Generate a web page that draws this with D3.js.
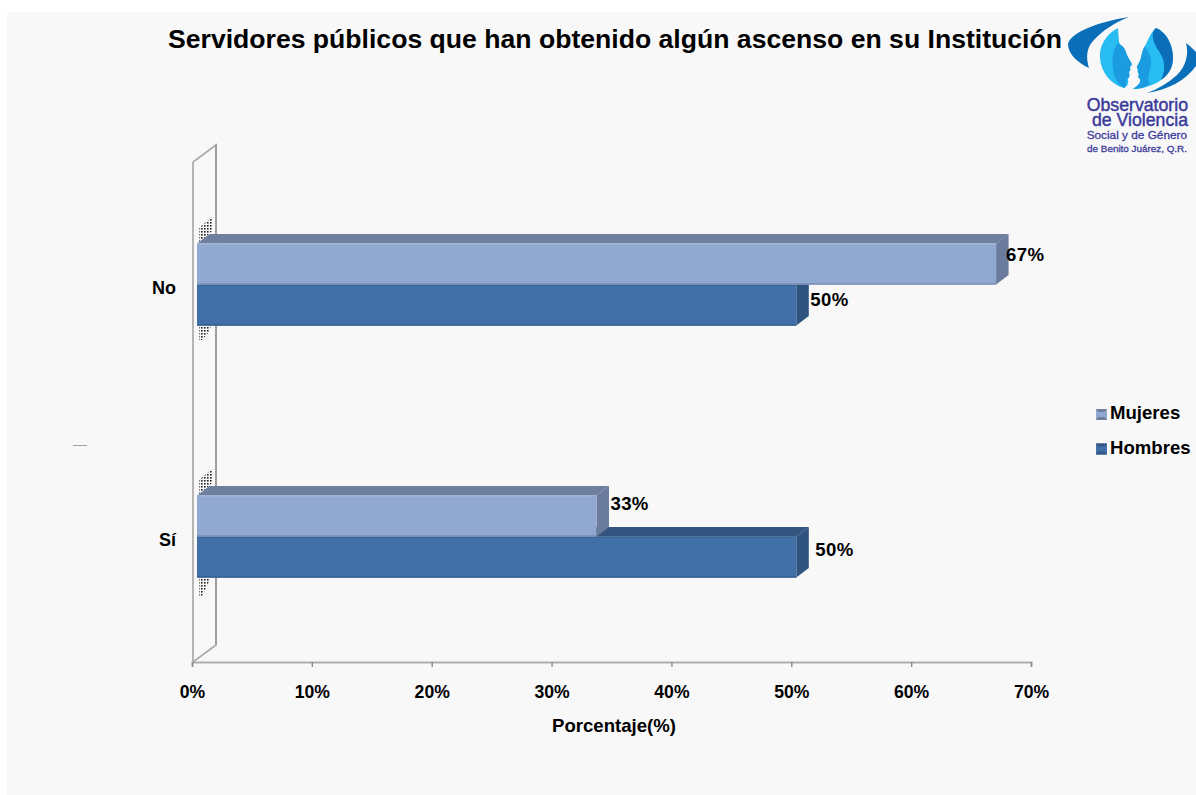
<!DOCTYPE html>
<html><head><meta charset="utf-8">
<script src="https://cdn.jsdelivr.net/npm/d3@7/dist/d3.min.js"></script>
<style>html,body{margin:0;padding:0;background:#fff}svg{display:block}text{font-family:"Liberation Sans",Arial,sans-serif;font-weight:700;fill:#000}</style>
</head><body><svg id="c" width="1196" height="795"></svg>
<script>
const chartTitle = "Servidores públicos que han obtenido algún ascenso en su Institución";
const xAxisTitle = "Porcentaje(%)";
const categories = ["No", "Sí"];
const seriesNames = ["Mujeres", "Hombres"];
const mujeres = [66.67, 33.33];
const hombres = [50, 50];
const xTicks = [0, 10, 20, 30, 40, 50, 60, 70];
const logoLines = ["Observatorio", "de Violencia", "Social y de Género", "de Benito Juárez, Q.R."];

const svg = d3.select("#c");
svg.append("rect").attr("x",7).attr("y",12).attr("width",1189).attr("height",783).attr("fill","#f8f8f8");

const x = d3.scaleLinear().domain([0,70]).range([192,1031]);
const y = d3.scaleBand().domain(categories).range([158,662]);
const inner = d3.scaleBand().domain(seriesNames).range([0,1]);
const frontDx = 5, depthX = 12.5, depthY = 9.5;
const barH = 41;

const g = svg.append("g");
g.append("path").attr("d",`M${x(0)+1},162V662L${x(0)+24},645V145L${x(0)+1},162`).attr("fill","none").attr("stroke","#adadad").attr("stroke-width",1.8);
g.append("path").attr("d",`M${x(0)+24},145V645`).attr("stroke","#808080").attr("stroke-width",1.6).attr("stroke-dasharray","1 1").attr("fill","none");

const defs = svg.append("defs");
const pat = defs.append("pattern").attr("id","dots").attr("width",3).attr("height",3).attr("patternUnits","userSpaceOnUse");
pat.append("rect").attr("width",1.6).attr("height",1.6).attr("fill","#222");
[[199,217,13,26],[199,469,13,26],[199,326,12,14],[199,578,11,18]].forEach((r,i)=>{
  const d = i<2 ? `M${r[0]},${r[1]+r[3]}V${r[1]+11}L${r[0]+r[2]},${r[1]}V${r[1]+r[3]-12}Z`
                : `M${r[0]},${r[1]}H${r[0]+r[2]}L${r[0]+r[2]-2},${r[1]+6}L${r[0]+3},${r[1]+r[3]}H${r[0]}Z`;
  g.append("path").attr("d",d).attr("fill","url(#dots)");
});

const axis = d3.axisBottom(x).tickValues(xTicks).tickSize(5).tickFormat(d=>d+"%");
const ax = svg.append("g").attr("transform","translate(0,662)").call(axis);
ax.select(".domain").attr("stroke","#adadad").attr("stroke-width",1.8);
ax.selectAll("line").attr("stroke","#8c8c8c").attr("stroke-width",1.4);
ax.selectAll("text").attr("y",24).attr("dy","0.71em").attr("font-size",17.6).style("font-family",'"Liberation Sans",Arial,sans-serif').style("font-weight",700);

svg.append("text").attr("x",614).attr("y",732).attr("text-anchor","middle").attr("font-size",18.6).text(xAxisTitle);
svg.append("text").attr("x",615).attr("y",48).attr("text-anchor","middle").attr("font-size",26.6).text(chartTitle);

const colors = {
  Mujeres:{front:"#91a8d0", top:"#6f809f", side:"#6a7b9e", edge:"#7c8fb5"},
  Hombres:{front:"#4170a8", top:"#34557f", side:"#2f5480", edge:"#35608f"}
};

const rows = [];
categories.forEach((c,i)=>{
  rows.push({cat:c,s:"Mujeres",v:mujeres[i]});
  rows.push({cat:c,s:"Hombres",v:hombres[i]});
});
const barY = d => y(d.cat) + y.bandwidth()/2 - barH + inner(d.s)*2*barH + 0.5;
const x0 = x(0)+frontDx;
const xEnd = d => x(d.v)+frontDx;

const order = rows.slice().sort((a,b)=> (a.s===b.s?0:(a.s==="Hombres"?-1:1)));
const bars = svg.append("g").selectAll("g").data(order).join("g");
bars.append("path").attr("d",d=>{const t=barY(d),e=xEnd(d);return `M${x0},${t}L${x0+depthX},${t-depthY}H${e+depthX}L${e},${t}Z`}).attr("fill",d=>colors[d.s].top);
bars.append("path").attr("d",d=>{const t=barY(d),e=xEnd(d);return `M${e},${t}L${e+depthX},${t-depthY}V${t+barH-depthY}L${e},${t+barH}Z`}).attr("fill",d=>colors[d.s].side);
bars.append("rect").attr("x",x0).attr("y",barY).attr("width",d=>xEnd(d)-x0).attr("height",barH).attr("fill",d=>colors[d.s].front);
bars.append("line").attr("x1",x0).attr("x2",xEnd).attr("y1",d=>barY(d)+barH-0.5).attr("y2",d=>barY(d)+barH-0.5).attr("stroke",d=>colors[d.s].edge).attr("stroke-width",1.6);
bars.append("line").attr("x1",x0).attr("x2",xEnd).attr("y1",d=>barY(d)+0.5).attr("y2",d=>barY(d)+0.5).attr("stroke",d=>d.s==="Mujeres"?"#a3b7da":"#37618f").attr("stroke-width",1.2);

const labelOffset = {"No|Mujeres":[10,-9],"No|Hombres":[14,-5],"Sí|Mujeres":[14,-12],"Sí|Hombres":[19,-7]};
svg.append("g").selectAll("text").data(rows).join("text")
  .attr("x",d=>xEnd(d)+labelOffset[d.cat+"|"+d.s][0])
  .attr("y",d=>barY(d)+barH/2+labelOffset[d.cat+"|"+d.s][1]+6)
  .attr("font-size",18.6).style("letter-spacing","0.35px").text(d=>d3.format(".0f")(d.v)+"%");

svg.append("g").selectAll("text").data(categories).join("text")
  .attr("x",176).attr("y",d=>y(d)+y.bandwidth()/2+10).attr("text-anchor","end")
  .attr("font-size",18).text(d=>d);

const leg = svg.append("g").selectAll("g").data(seriesNames).join("g").attr("transform",(d,i)=>`translate(0,${413+i*34.5})`);
leg.append("rect").attr("x",1096).attr("y",-4).attr("width",11).attr("height",11).attr("fill",d=>colors[d].front);
leg.append("path").attr("d","M1096,-4h11l-2.5,3h-6Z M1096,7h11l-2.5,-3h-6Z").attr("fill",d=>colors[d].top);
leg.append("text").attr("x",1110).attr("y",6).attr("font-size",18.6).text(d=>d);

svg.append("line").attr("x1",73).attr("x2",87).attr("y1",445.5).attr("y2",445.5).attr("stroke","#a0a0a0").attr("stroke-width",1);

// logo
const lg = svg.append("g");
const dark="#0a6fb8", mid="#1b9ce0", light="#27bdf2";
lg.append("path").attr("d","M1129,17C1098,22 1071,32 1068,44C1068,54 1078,63 1089,68C1086,58 1086,48 1094,40C1102,31 1114,23 1129,17Z").attr("fill",dark);
lg.append("path").attr("d","M1147,93C1168,90 1186,80 1196,66V52C1192,48 1189,45 1186,43C1189,54 1186,66 1177,75C1168,83 1158,89 1147,93Z").attr("fill",dark);
lg.append("path").attr("d","M1118,28C1106,34 1099,46 1100,58C1101,72 1110,84 1124,88C1127,86 1129,84 1128,80C1129,76 1118,70 1118,60C1118,52 1122,46 1119,42Z").attr("fill",light);
lg.append("path").attr("d","M1118,43C1122,45 1125,48 1126,52C1127,56 1130,60 1132,64C1132,66 1130,66 1130,67C1131,70 1130,71 1129,72C1130,75 1130,78 1127,79C1125,83 1128,85 1124,88C1118,84 1114,78 1113,70C1112,60 1112,50 1118,43Z").attr("fill",mid);
lg.append("path").attr("d","M1156,28C1166,32 1173,44 1173,58C1173,72 1162,82 1149,86C1144,88 1138,89 1133,89C1139,85 1141,82 1140,79C1138,78 1138,76 1139,74C1137,72 1138,70 1138,69C1136,68 1137,66 1139,63C1142,58 1141,52 1145,46C1148,40 1151,32 1156,28Z").attr("fill",light);
lg.append("path").attr("d","M1156,28C1150,32 1153,42 1158,50C1164,58 1167,68 1161,80C1170,74 1173,66 1173,58C1173,44 1166,32 1156,28Z").attr("fill",dark);
lg.append("path").attr("d","M1145,46C1141,52 1142,58 1139,63C1137,66 1136,68 1138,69C1138,70 1137,72 1139,74C1138,76 1138,78 1140,79C1141,82 1139,85 1133,89C1140,89 1146,87 1150,84C1146,78 1150,72 1151,64C1152,56 1148,52 1145,46Z").attr("fill",mid);
const logoStyles = [[1188,111,17.7],[1188,126,17.7],[1187,139,11.8],[1187,152,9.9]];
lg.selectAll("text").data(logoLines).join("text").attr("x",(d,i)=>logoStyles[i][0]).attr("y",(d,i)=>logoStyles[i][1]).attr("text-anchor","end")
  .attr("font-size",(d,i)=>logoStyles[i][2]).style("fill","#3a3a9a").style("font-weight",400).style("stroke","#3a3a9a").style("stroke-width",(d,i)=>i<2?0.45:0.3).text(d=>d);
</script></body></html>
